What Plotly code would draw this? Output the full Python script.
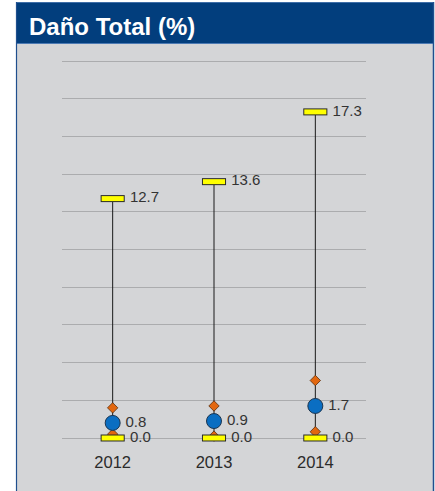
import plotly.graph_objects as go

# ---- data ----
years = ["2012", "2013", "2014"]
max_vals = [12.7, 13.6, 17.3]
min_vals = [0.0, 0.0, 0.0]
mean_vals = [0.8, 0.9, 1.7]
upper_q = [1.6, 1.7, 3.05]
lower_q = [0.2, 0.1, 0.33]
title_text = "Daño Total (%)"

W, H = 435, 491
L, R, T, B = 62, 69, 44, 41
PW, PH = W - L - R, H - T - B


def px(x):
    return (x - L) / PW


def py(y):
    return (H - B - y) / PH


fig = go.Figure()

# vertical range lines (min to max)
lx, ly = [], []
for c, lo, hi in zip(years, min_vals, max_vals):
    lx += [c, c, None]
    ly += [lo, hi, None]
fig.add_trace(go.Scatter(x=lx, y=ly, mode="lines", line=dict(color="#1a1a1a", width=1),
                         hoverinfo="skip", showlegend=False))

# quartile diamonds
for vals in (upper_q, lower_q):
    fig.add_trace(go.Scatter(x=years, y=vals, mode="markers",
                             marker=dict(symbol="diamond", size=8, color="#E2670F",
                                         line=dict(color="#5a2e0c", width=0.8)),
                             showlegend=False))

# mean circles
fig.add_trace(go.Scatter(x=years, y=mean_vals, mode="markers",
                         marker=dict(symbol="circle", size=15, color="#0A6EC2",
                                     line=dict(color="#1b3550", width=1)),
                         showlegend=False))

# yellow dashes for max and min (outline + fill)
for vals in (max_vals, min_vals):
    fig.add_trace(go.Scatter(x=years, y=vals, mode="markers",
                             marker=dict(symbol="line-ew", size=17.2, color="#2a2a2a",
                                         line=dict(color="#2a2a2a", width=7)),
                             hoverinfo="skip", showlegend=False))
    fig.add_trace(go.Scatter(x=years, y=vals, mode="markers",
                             marker=dict(symbol="line-ew", size=15.8, color="#FFFF00",
                                         line=dict(color="#FFFF00", width=5)),
                             showlegend=False))

lab_font = dict(family="Liberation Sans, Arial, sans-serif", size=15, color="#333333")

# value labels
for vals, sz in ((max_vals, 26), (min_vals, 26), (mean_vals, 19)):
    fig.add_trace(go.Scatter(x=years, y=vals, mode="markers+text",
                             text=[f"{v:.1f}" for v in vals], textposition="middle right",
                             textfont=lab_font,
                             marker=dict(size=sz, color="rgba(0,0,0,0)"),
                             hoverinfo="skip", showlegend=False))

shapes = [
    # gray panel
    dict(type="rect", xref="paper", yref="paper", x0=px(16), x1=px(434), y0=py(491), y1=py(44),
         fillcolor="#D4D5D7", line=dict(width=0), layer="below"),
    # title bar
    dict(type="rect", xref="paper", yref="paper", x0=px(16), x1=px(434), y0=py(44), y1=py(2),
         fillcolor="#023E7D", line=dict(width=0), layer="below"),
    # separator line
    dict(type="line", xref="paper", yref="paper", x0=px(16), x1=px(434), y0=py(43.5), y1=py(43.5),
         line=dict(color="#4C7AB3", width=1), layer="below"),
    # top line
    dict(type="line", xref="paper", yref="paper", x0=px(16), x1=px(434), y0=py(2.5), y1=py(2.5),
         line=dict(color="#3E6EA8", width=1), layer="below"),
    # left border
    dict(type="line", xref="paper", yref="paper", x0=px(16.5), x1=px(16.5), y0=py(491), y1=py(2),
         line=dict(color="#1F4F8E", width=1.2), layer="below"),
    # right border
    dict(type="line", xref="paper", yref="paper", x0=px(433.5), x1=px(433.5), y0=py(491), y1=py(2),
         line=dict(color="#1F4F8E", width=1.5), layer="below"),
]

fig.update_layout(
    width=W, height=H,
    margin=dict(l=L, r=R, t=T, b=B, pad=0),
    paper_bgcolor="white",
    plot_bgcolor="rgba(0,0,0,0)",
    shapes=shapes,
    showlegend=False,
    title=dict(text=f"<b>{title_text}</b>", x=29 / W, xref="container", xanchor="left",
               y=1 - 26.9 / H, yref="container", yanchor="middle",
               font=dict(family="Liberation Sans, Arial, sans-serif", size=24, color="white")),
    xaxis=dict(type="category", categoryorder="array", categoryarray=years, range=[-0.5, 2.5],
               showgrid=False, zeroline=False, showline=False, ticks="",
               tickfont=dict(family="Liberation Sans, Arial, sans-serif", size=16.5, color="#2b2b2b"),
               fixedrange=True),
    yaxis=dict(range=[-(12 / 18.85), 20 + 17 / 18.85], tick0=0, dtick=2, showgrid=True,
               gridcolor="#ABACAE", gridwidth=1, zeroline=False, showline=False,
               showticklabels=False, ticks="", fixedrange=True),
)

fig.write_html("out.html", config={"displayModeBar": False},
               post_script="document.body.style.margin='0';document.body.style.overflow='hidden';")
